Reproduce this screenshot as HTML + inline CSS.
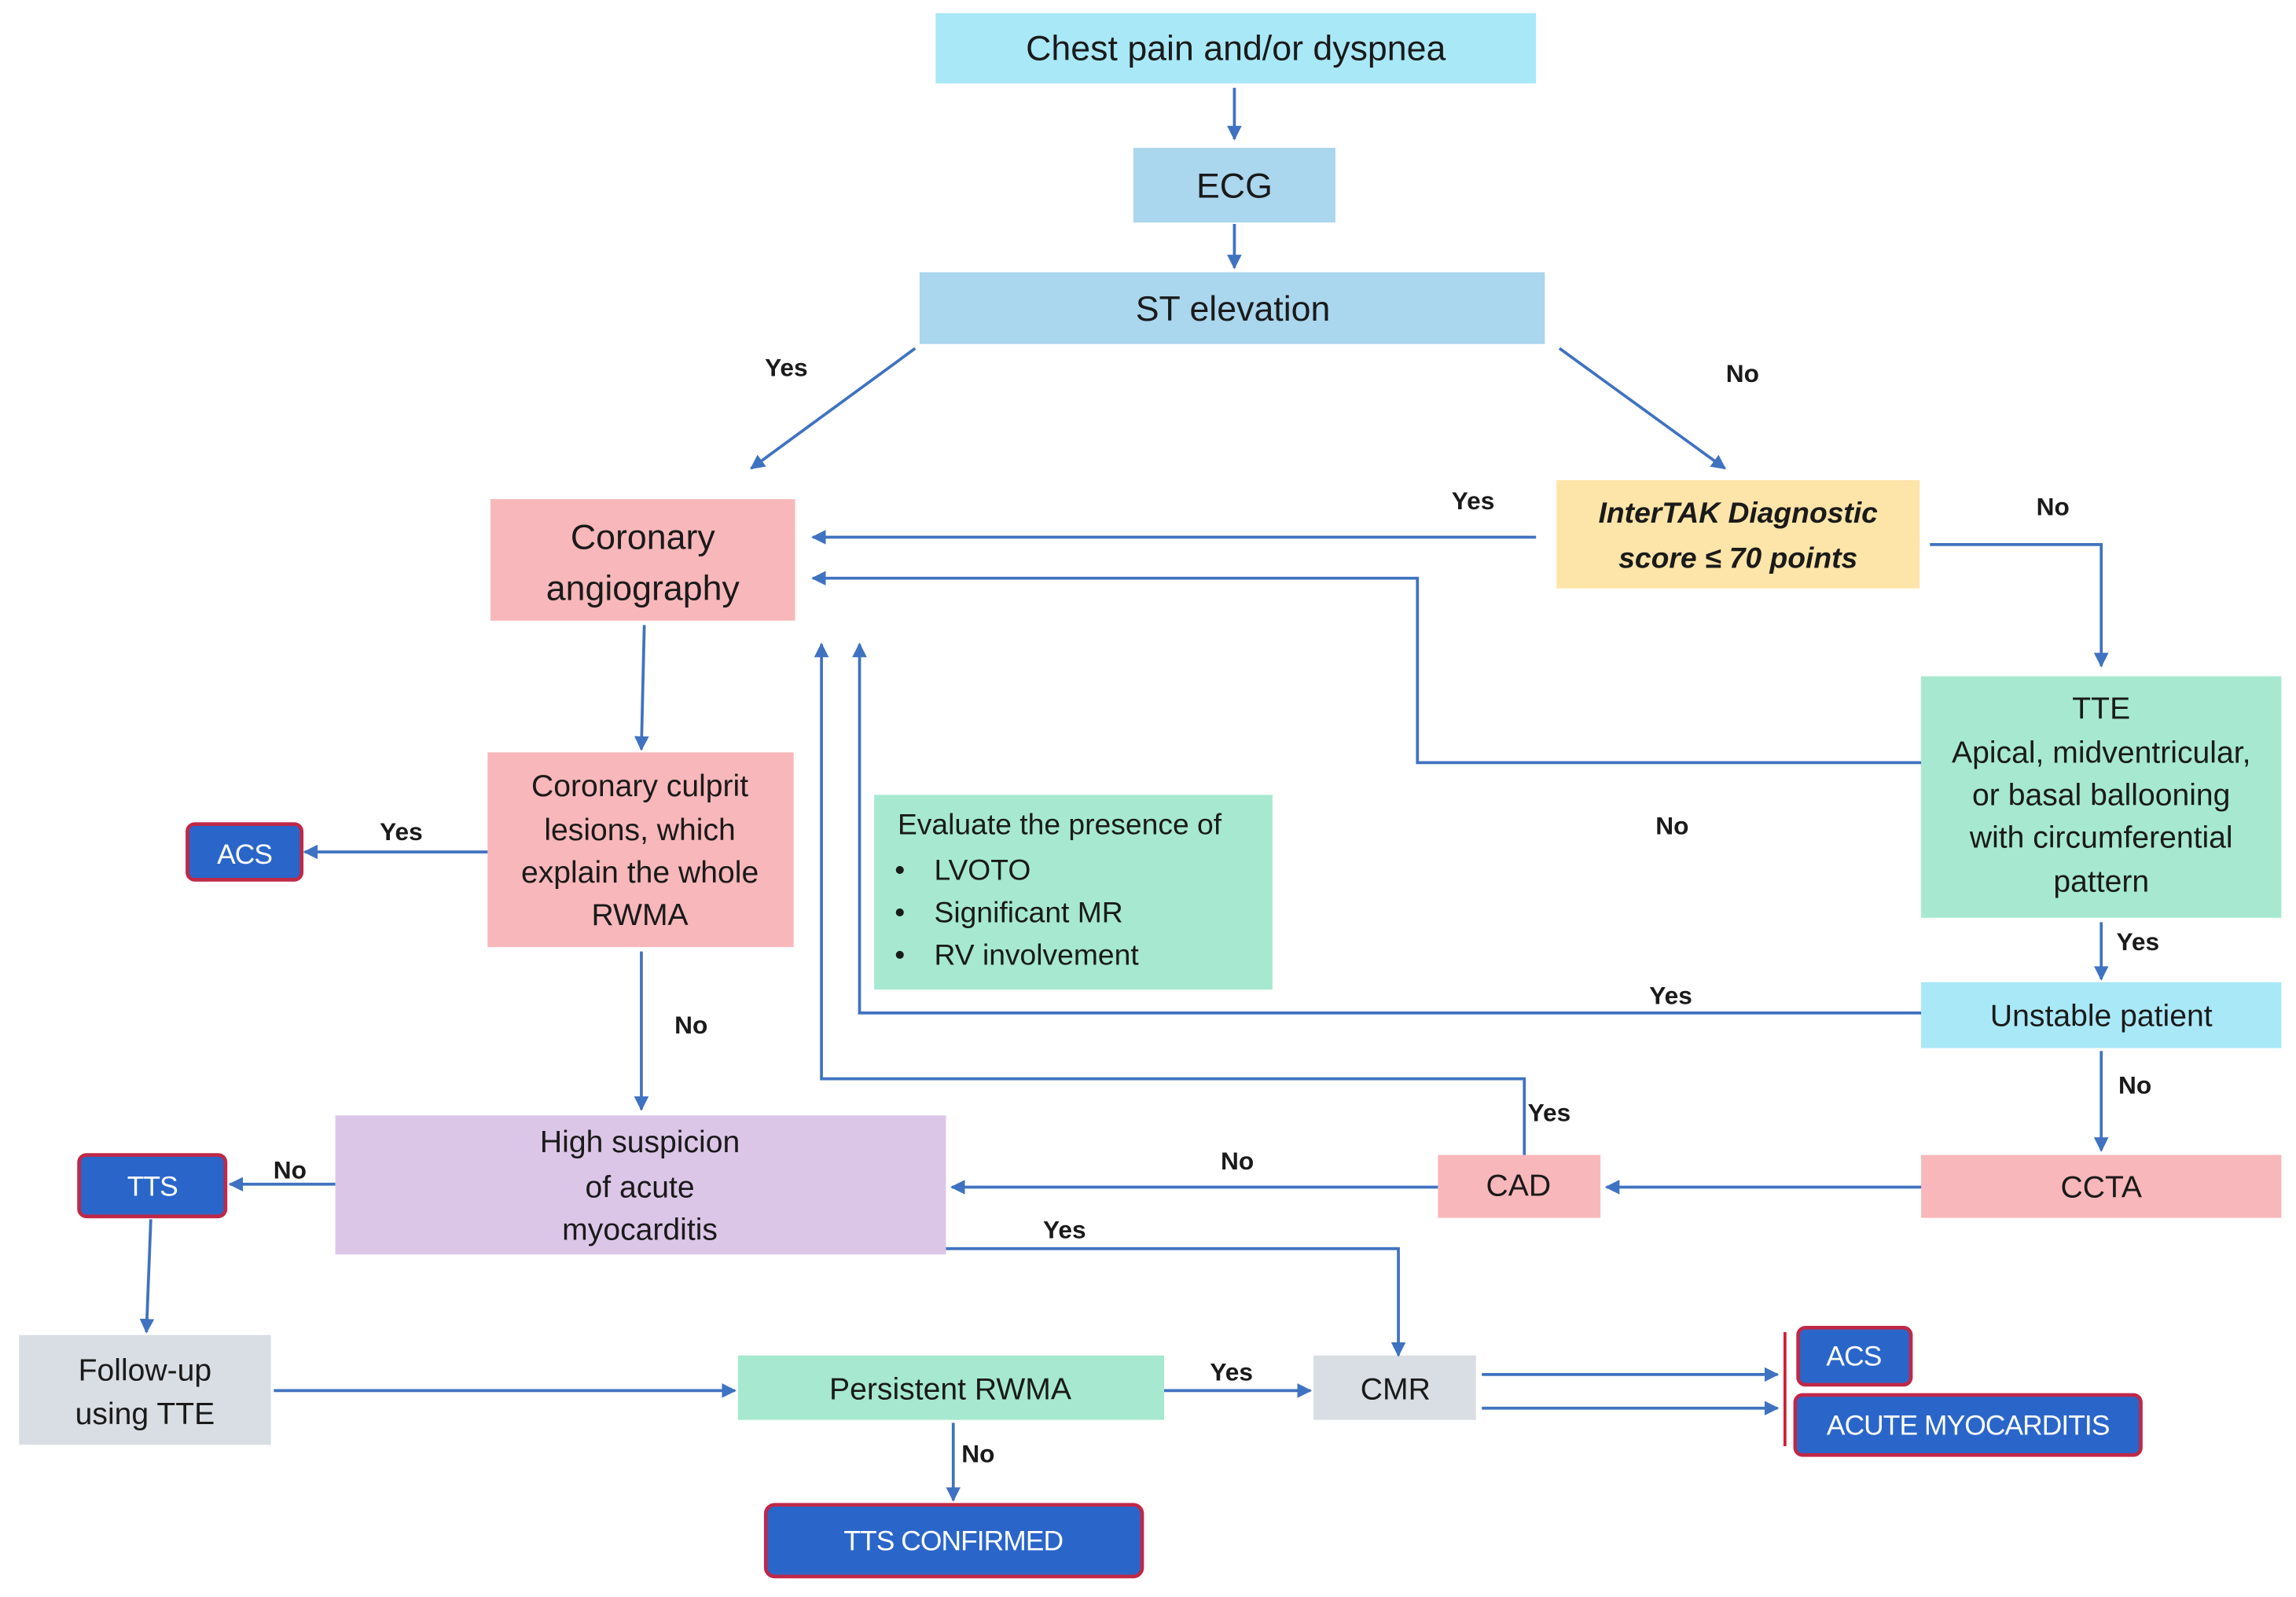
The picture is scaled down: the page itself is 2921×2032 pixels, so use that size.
<!DOCTYPE html>
<html><head><meta charset="utf-8"><style>
html,body{margin:0;padding:0;background:#fff}
svg{display:block}
text{font-family:"Liberation Sans",sans-serif;fill:#1a1a1a}
.n{font-size:21px;text-anchor:middle}
.l{font-size:17px;font-weight:bold;text-anchor:middle}
.w{font-size:19px;fill:#fff;text-anchor:middle;letter-spacing:-0.5px}
.ln{stroke:#3f72c0;stroke-width:2;fill:none}
</style></head><body>
<svg width="2921" height="2032" viewBox="0 0 1568 1091" preserveAspectRatio="none" xmlns="http://www.w3.org/2000/svg">
<defs><marker id="a" viewBox="0 0 10 10" refX="9" refY="5" markerWidth="5" markerHeight="5" orient="auto"><path d="M0,0L10,5L0,10z" fill="#3f72c0"/></marker></defs>
<rect width="1568" height="1091" fill="#fff"/>
<!-- boxes -->
<rect x="639" y="9" width="410" height="48" fill="#a9e8f7"/>
<text class="n" x="844" y="41" style="font-size:24px">Chest pain and/or dyspnea</text>
<rect x="774" y="101" width="138" height="51" fill="#aad6ee"/>
<text class="n" x="843" y="135" style="font-size:24px">ECG</text>
<rect x="628" y="186" width="427" height="49" fill="#aad6ee"/>
<text class="n" x="842" y="219" style="font-size:24px">ST elevation</text>
<rect x="335" y="341" width="208" height="83" fill="#f8b7ba"/>
<text class="n" x="439" y="375" style="font-size:24px">Coronary</text>
<text class="n" x="439" y="410" style="font-size:24px">angiography</text>
<rect x="1063" y="328" width="248" height="74" fill="#fde4a8"/>
<text class="n" x="1187" y="357" style="font-weight:bold;font-style:italic;font-size:20px">InterTAK Diagnostic</text>
<text class="n" x="1187" y="388" style="font-weight:bold;font-style:italic;font-size:20px">score ≤ 70 points</text>
<rect x="1312" y="462" width="246" height="165" fill="#a6e9d0"/>
<text class="n" x="1435" y="491">TTE</text>
<text class="n" x="1435" y="521">Apical, midventricular,</text>
<text class="n" x="1435" y="550">or basal ballooning</text>
<text class="n" x="1435" y="579">with circumferential</text>
<text class="n" x="1435" y="609">pattern</text>
<rect x="333" y="514" width="209" height="133" fill="#f8b7ba"/>
<text class="n" x="437" y="544">Coronary culprit</text>
<text class="n" x="437" y="574">lesions, which</text>
<text class="n" x="437" y="603">explain the whole</text>
<text class="n" x="437" y="632">RWMA</text>
<rect x="597" y="543" width="272" height="133" fill="#a6e9d0"/>
<text x="613" y="570" style="font-size:20px">Evaluate the presence of</text>
<text x="611" y="601" style="font-size:20px">•</text><text x="638" y="601" style="font-size:20px">LVOTO</text>
<text x="611" y="630" style="font-size:20px">•</text><text x="638" y="630" style="font-size:20px">Significant MR</text>
<text x="611" y="659" style="font-size:20px">•</text><text x="638" y="659" style="font-size:20px">RV involvement</text>
<rect x="1312" y="671" width="246" height="45" fill="#a9e8f7"/>
<text class="n" x="1435" y="701">Unstable patient</text>
<rect x="229" y="762" width="417" height="95" fill="#dcc6e8"/>
<text class="n" x="437" y="787">High suspicion</text>
<text class="n" x="437" y="818">of acute</text>
<text class="n" x="437" y="847">myocarditis</text>
<rect x="982" y="789" width="111" height="43" fill="#f8b7ba"/>
<text class="n" x="1037" y="817">CAD</text>
<rect x="1312" y="789" width="246" height="43" fill="#f8b7ba"/>
<text class="n" x="1435" y="818">CCTA</text>
<rect x="13" y="912" width="172" height="75" fill="#d9dde4"/>
<text class="n" x="99" y="943">Follow-up</text>
<text class="n" x="99" y="973">using TTE</text>
<rect x="504" y="926" width="291" height="44" fill="#a6e9d0"/>
<text class="n" x="649" y="956">Persistent RWMA</text>
<rect x="897" y="926" width="111" height="44" fill="#d9dde4"/>
<text class="n" x="953" y="956">CMR</text>
<!-- blue terminals -->
<rect x="128" y="563" width="78" height="38" rx="5" fill="#2a66c9" stroke="#c02848" stroke-width="2.5"/>
<text class="w" x="167" y="590">ACS</text>
<rect x="54" y="789" width="100" height="42" rx="5" fill="#2a66c9" stroke="#c02848" stroke-width="2.5"/>
<text class="w" x="104" y="817">TTS</text>
<rect x="1228" y="907" width="77" height="39" rx="5" fill="#2a66c9" stroke="#c02848" stroke-width="2.5"/>
<text class="w" x="1266" y="933">ACS</text>
<rect x="1226" y="953" width="236" height="41" rx="5" fill="#2a66c9" stroke="#c02848" stroke-width="2.5"/>
<text class="w" x="1344" y="980">ACUTE MYOCARDITIS</text>
<rect x="523" y="1028" width="257" height="49" rx="6" fill="#2a66c9" stroke="#c02848" stroke-width="2.5"/>
<text class="w" x="651" y="1059">TTS CONFIRMED</text>
<line x1="1219" y1="910" x2="1219" y2="988" stroke="#d02030" stroke-width="2"/>
<!-- connectors -->
<g class="ln" marker-end="url(#a)">
<path d="M843,60V95"/>
<path d="M843,153V183"/>
<path d="M625,238L513,320"/>
<path d="M1065,238L1178,320"/>
<path d="M1049,367H555"/>
<path d="M1312,521H968V395H555"/>
<path d="M1318,372H1435V455"/>
<path d="M440,427L438,512"/>
<path d="M333,582H208"/>
<path d="M438,650V758"/>
<path d="M1312,692H587V440"/>
<path d="M1041,789V737H561V440"/>
<path d="M1435,630V669"/>
<path d="M1435,718V786"/>
<path d="M1312,811H1097"/>
<path d="M982,811H650"/>
<path d="M229,809H157"/>
<path d="M646,853H955V926"/>
<path d="M103,833L100,910"/>
<path d="M187,950H502"/>
<path d="M795,950H895"/>
<path d="M651,972V1025"/>
<path d="M1012,939H1214"/>
<path d="M1012,962H1214"/>
</g>
<!-- labels -->
<text class="l" x="537" y="257">Yes</text>
<text class="l" x="1190" y="261">No</text>
<text class="l" x="1006" y="348">Yes</text>
<text class="l" x="1402" y="352">No</text>
<text class="l" x="274" y="574">Yes</text>
<text class="l" x="1142" y="570">No</text>
<text class="l" x="1460" y="649">Yes</text>
<text class="l" x="1141" y="686">Yes</text>
<text class="l" x="472" y="706">No</text>
<text class="l" x="1458" y="747">No</text>
<text class="l" x="1058" y="766">Yes</text>
<text class="l" x="845" y="799">No</text>
<text class="l" x="198" y="805">No</text>
<text class="l" x="727" y="846">Yes</text>
<text class="l" x="841" y="943">Yes</text>
<text class="l" x="668" y="999">No</text>
</svg>
</body></html>
